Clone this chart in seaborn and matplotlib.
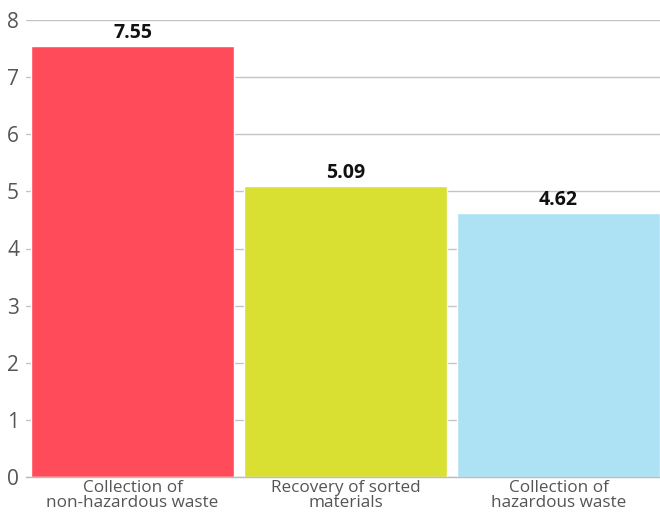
import matplotlib
matplotlib.use("Agg")
import matplotlib.pyplot as plt
import seaborn as sns
import pandas as pd

categories = ["Collection of\nnon-hazardous waste", "Recovery of sorted\nmaterials", "Collection of\nhazardous waste"]
values = [7.55, 5.09, 4.62]
colors = ["#FF4B5A", "#D9E032", "#ADE1F4"]
yticks = [0, 1, 2, 3, 4, 5, 6, 7, 8]

sns.set_theme(style="white")
plt.rcParams['font.family'] = ['Open Sans', 'DejaVu Sans']

df = pd.DataFrame({"category": categories, "value": values})

fig = plt.figure(figsize=(6.6, 5.15), dpi=100)
ax = fig.add_axes([26/660, 38/515, 639/660, 457/515])

sns.barplot(data=df, x="category", y="value", hue="category", palette=colors,
            saturation=1, width=0.95, legend=False, ax=ax, zorder=3)

ax.set_ylim(0, 8)
ax.set_xlim(-0.5, 2.5)
ax.set_yticks(yticks)
ax.yaxis.grid(True, color="#C4C4C4", linewidth=1, zorder=0)
ax.set_axisbelow(True)
for s in ["top", "right", "left"]:
    ax.spines[s].set_visible(False)
ax.spines["bottom"].set_color("#BBBBBB")
ax.spines["bottom"].set_linewidth(1)
ax.spines["bottom"].set_zorder(4)

ax.set_xlabel("")
ax.set_ylabel("")
ax.tick_params(axis="y", labelsize=15, colors="#555555", length=4, width=1,
               color="#C4C4C4", pad=1)
ax.set_xticks([0, 1, 2])
ax.set_xticklabels(categories, fontsize=12.3, color="#555555", linespacing=0.95)
ax.tick_params(axis="x", length=0, pad=2)
# minor ticks at category boundaries
ax.set_xticks([-0.5, 0.5, 1.5, 2.5], minor=True)
ax.tick_params(axis="x", which="minor", length=5, width=1, color="#BBBBBB")

for c in ax.containers:
    ax.bar_label(c, fmt="%.2f", padding=2, fontsize=14, fontweight="bold", color="#111111")

fig.savefig("out.png", dpi=100)
